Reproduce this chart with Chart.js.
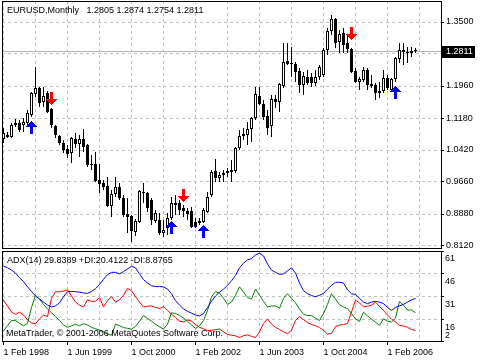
<!DOCTYPE html>
<html>
<head>
<meta charset="utf-8">
<script src="https://cdn.jsdelivr.net/npm/chart.js@4.4.1/dist/chart.umd.min.js"></script>
<style>
  html, body { margin: 0; padding: 0; background: #fff; }
  #wrap { position: relative; width: 480px; height: 360px; overflow: hidden; }
  canvas { position: absolute; left: 0; display: block; }
  #main { top: 0; }
  #adx { top: 250px; }
</style>
</head>
<body>
<div id="wrap">
  <canvas id="main" width="480" height="250"></canvas>
  <canvas id="adx" width="480" height="110"></canvas>
</div>
<script>
// monthly EURUSD bars, Feb 1998 .. Sep 2006
const opens = [1.0685, 1.0733, 1.0733, 1.1070, 1.1070, 1.1022, 1.1070, 1.1262, 1.1768, 1.1912,
  1.1575, 1.1792, 1.1407, 1.0997, 1.0757, 1.0588, 1.0444, 1.0348, 1.0685, 1.0564,
  1.0685, 1.0540, 1.0083, 1.0083, 0.9698, 0.9626, 0.9554, 0.9073, 0.9361, 0.9530,
  0.9265, 0.8880, 0.8832, 0.8447, 0.8688, 0.9409, 0.9385, 0.9217, 0.8712, 0.8736,
  0.8423, 0.8543, 0.8784, 0.9145, 0.9145, 0.9024, 0.8952, 0.8952, 0.8688, 0.8663,
  0.8688, 0.8928, 0.9337, 0.9915, 0.9746, 0.9818, 0.9867, 0.9891, 0.9915, 1.0468,
  1.0805, 1.0781, 1.0925, 1.1190, 1.1719, 1.1527, 1.1238, 1.0997, 1.1647, 1.1575,
  1.1960, 1.2562, 1.2513, 1.2489, 1.2321, 1.1984, 1.2177, 1.2177, 1.2032, 1.2177,
  1.2225, 1.2826, 1.3283, 1.3572, 1.3019, 1.3235, 1.2995, 1.2850, 1.2321, 1.2056,
  1.2104, 1.2345, 1.2008, 1.1984, 1.1792, 1.1840, 1.2153, 1.1864, 1.2128, 1.2610,
  1.2826, 1.2778, 1.2754, 1.2805];
const highs = [1.0949, 1.0853, 1.1070, 1.1166, 1.1142, 1.1190, 1.1383, 1.1816, 1.2417, 1.1936,
  1.1936, 1.1840, 1.1431, 1.1022, 1.0781, 1.0661, 1.0540, 1.0733, 1.0829, 1.0781,
  1.0925, 1.0564, 1.0300, 1.0372, 1.0083, 0.9698, 0.9770, 0.9458, 0.9770, 0.9626,
  0.9337, 0.9265, 0.8856, 0.8760, 0.9458, 0.9626, 0.9409, 0.9265, 0.8976, 0.8904,
  0.8736, 0.8904, 0.9289, 0.9337, 0.9217, 0.9097, 0.9024, 0.9048, 0.8784, 0.8784,
  0.9024, 0.9409, 0.9939, 1.0203, 0.9891, 0.9939, 0.9987, 1.0179, 1.0492, 1.0901,
  1.0949, 1.1094, 1.1214, 1.1936, 1.1936, 1.1623, 1.1383, 1.1743, 1.1743, 1.2032,
  1.2995, 1.2995, 1.2898, 1.2538, 1.2393, 1.2297, 1.2345, 1.2273, 1.2345, 1.2465,
  1.2874, 1.3355, 1.3668, 1.3596, 1.3307, 1.3355, 1.3187, 1.2874, 1.2393, 1.2177,
  1.2417, 1.2393, 1.2225, 1.2032, 1.2056, 1.2345, 1.2225, 1.2153, 1.2658, 1.2995,
  1.2995, 1.2898, 1.2898, 1.2874];
const lows = [1.0588, 1.0709, 1.0709, 1.0973, 1.0853, 1.0853, 1.1022, 1.1214, 1.1695, 1.1455,
  1.1455, 1.1310, 1.0949, 1.0709, 1.0540, 1.0348, 1.0228, 1.0107, 1.0468, 1.0252,
  1.0372, 1.0011, 0.9939, 0.9650, 0.9385, 0.9458, 0.9048, 0.8808, 0.9289, 0.9217,
  0.8808, 0.8423, 0.8206, 0.8351, 0.8663, 0.9145, 0.8928, 0.8615, 0.8663, 0.8375,
  0.8327, 0.8375, 0.8736, 0.8856, 0.8856, 0.8808, 0.8736, 0.8543, 0.8543, 0.8615,
  0.8663, 0.8904, 0.9289, 0.9650, 0.9650, 0.9650, 0.9770, 0.9650, 0.9867, 1.0420,
  1.0661, 1.0540, 1.0612, 1.1142, 1.1503, 1.1142, 1.0781, 1.0733, 1.1431, 1.1334,
  1.1912, 1.2465, 1.2177, 1.2056, 1.1792, 1.1743, 1.1984, 1.1936, 1.1960, 1.2104,
  1.2177, 1.2706, 1.3187, 1.2874, 1.2754, 1.2754, 1.2754, 1.2273, 1.2032, 1.1864,
  1.2056, 1.1864, 1.1912, 1.1623, 1.1671, 1.1792, 1.1864, 1.1816, 1.2056, 1.2513,
  1.2465, 1.2513, 1.2658, 1.2754];
const closes = [1.0829, 1.0781, 1.1022, 1.1022, 1.0901, 1.1094, 1.1310, 1.1792, 1.1912, 1.1551,
  1.1719, 1.1334, 1.1022, 1.0781, 1.0588, 1.0420, 1.0324, 1.0709, 1.0564, 1.0685,
  1.0492, 1.0059, 1.0059, 0.9674, 0.9602, 0.9530, 0.9073, 0.9361, 0.9530, 0.9265,
  0.8856, 0.8808, 0.8471, 0.8712, 0.9434, 0.9385, 0.9024, 0.8736, 0.8904, 0.8423,
  0.8495, 0.8784, 0.9145, 0.9097, 0.8976, 0.8952, 0.8880, 0.8567, 0.8567, 0.8712,
  0.8976, 0.9289, 0.9891, 0.9746, 0.9818, 0.9867, 0.9915, 0.9939, 1.0468, 1.0757,
  1.0757, 1.0925, 1.1190, 1.1768, 1.1527, 1.1214, 1.0949, 1.1647, 1.1575, 1.2008,
  1.2538, 1.2489, 1.2489, 1.2297, 1.1984, 1.2201, 1.2032, 1.2032, 1.2177, 1.2417,
  1.2826, 1.3283, 1.3572, 1.2995, 1.3211, 1.2947, 1.2850, 1.2297, 1.2056, 1.2128,
  1.2345, 1.1984, 1.1960, 1.1792, 1.1840, 1.2153, 1.1912, 1.2128, 1.2634, 1.2826,
  1.2778, 1.2754, 1.2802, 1.2811];

// fractal arrows: bar index and arrow tip price
const upFractalBars = [12, 45, 87];
const upFractalTips = [1.1503, 0.9193, 1.3067];
const downFractalBars = [7, 42, 50, 98];
const downFractalTips = [1.1118, 0.8688, 0.8615, 1.1960];

// ADX(14) window
const adx = [51, 50, 48.5, 46.5, 43.5, 41, 37.5, 34.5, 31.5, 29.5,
  27.6, 25.5, 24.3, 25, 27, 31, 34.3, 34.5, 34.3, 34,
  33.5, 33.2, 34.5, 36.3, 39, 42.5, 45.5, 47, 47, 46,
  47.5, 49.2, 51, 50, 46, 42.2, 40, 38.2, 37.7, 37.7,
  37.5, 36, 33, 28.5, 25.5, 23, 21.5, 20.3, 19, 18.4,
  20, 24, 28, 31.5, 34, 36, 38.5, 41.5, 45, 50,
  53, 55.2, 56, 58.5, 59.5, 57.8, 52.5, 48.5, 47, 45.7,
  46, 48, 50, 46.5, 40, 35, 33, 31.8, 31, 32,
  33.2, 36, 38.5, 40.5, 40.5, 40, 35.5, 33, 32.5, 30,
  27.5, 26.5, 27.5, 28, 27.5, 26.5, 24, 22, 24, 25,
  26, 27.5, 29, 29.8389];
const plusDI = [8.6, 12, 15.5, 15.5, 13.5, 12, 13.5, 24, 32, 29.5,
  26, 23, 20.5, 18, 15.5, 12.5, 11, 12, 13, 12,
  13.3, 12.5, 11, 10, 9, 8, 6.5, 5.8, 13, 12,
  10.8, 10.3, 9.8, 11.5, 15, 18.7, 16.8, 15, 13, 11.3,
  9.8, 13, 20.5, 20, 18.8, 17, 15, 12.5, 10.2, 12,
  15.3, 22, 31, 34.3, 33.5, 30, 26, 27.5, 32, 37.5,
  34, 30.5, 29.5, 36, 32, 28, 24.3, 25, 25, 23.5,
  30, 33, 30, 27, 23, 19.5, 18.7, 18.7, 17, 15.5,
  20, 26, 33, 29.5, 25.8, 24.3, 23.3, 20, 16.5, 14.8,
  20.9, 18.5, 16.3, 14.3, 12.3, 16.5, 15, 14.4, 17, 28,
  25.5, 22.3, 22.3, 20.4122];
const minusDI = [28.7, 25, 21, 19.5, 21, 19, 16, 13.8, 13.3, 16.5,
  19, 18, 30, 34.3, 34.3, 34.8, 35.5, 31.5, 27.5, 25.5,
  24.3, 29, 28, 28, 30.5, 24.3, 28.5, 31, 27.5, 29,
  32, 36.5, 35, 31, 27.5, 24.3, 24.8, 25, 24, 23.3,
  24.5, 22, 19.5, 17.5, 15, 14.5, 15.8, 15, 12.8, 11,
  10, 8.8, 9, 9.5, 9.8, 8, 6.3, 5.8, 5.4, 4.3,
  5.5, 6, 5, 4.3, 8, 13.5, 16.5, 13, 11, 9.5,
  8, 6.8, 9, 15.5, 18, 16, 14, 12.8, 12, 10.8,
  9, 6.5, 7, 11.5, 12.5, 12.8, 13.5, 21, 28.7, 27,
  24.3, 24.8, 25.4, 27.5, 24.5, 22, 19, 16.3, 14.5, 12.2,
  11.8, 11, 9.5, 8.8765];

const dateLabels = ['1 Feb 1998', '1 Jun 1999', '1 Oct 2000', '1 Feb 2002', '1 Jun 2003', '1 Oct 2004', '1 Feb 2006'];
const priceTicks = [1.35, 1.2735, 1.196, 1.118, 1.042, 0.966, 0.888, 0.812];
const adxTicks = [61, 46, 31, 16, 2];
const gridBars = [0, 8, 16, 24, 32, 40, 48, 56, 64, 72, 80, 88, 96, 104];

const FONT = "'Liberation Sans', Arial, sans-serif";
const last = closes.length - 1;
const xMin = -0.375, xMax = 109.375;
const priceMin = 0.80623, priceMax = 1.40053;

Chart.defaults.font.family = FONT;
Chart.defaults.font.size = 9;
Chart.defaults.color = '#000';

function arrowImage(color, pointsUp) {
  const c = document.createElement('canvas');
  c.width = 11; c.height = 27;
  const g = c.getContext('2d');
  g.fillStyle = color;
  for (let r = 0; r < 13; r++) {
    const w = r < 6 ? 2 * r + 1 : 3;
    const row = pointsUp ? 13 + r : 13 - r;
    g.fillRect((11 - w) / 2, row, w, 1);
  }
  return c;
}

// fixed axis boxes, no extra padding from edge labels
function fixBox(size, horizontal) {
  return s => {
    if (horizontal) s.height = size; else s.width = size;
    s.paddingTop = 0; s.paddingBottom = 0; s.paddingLeft = 0; s.paddingRight = 0;
  };
}

const xAxisBase = {
  type: 'linear', min: xMin, max: xMax, offset: false,
  afterBuildTicks: s => { s.ticks = gridBars.map(v => ({ value: v })); },
  border: { display: false, dash: [3, 3] }
};

const mainDecor = {
  id: 'mainDecor',
  beforeDraw(chart) { chart.ctx.imageSmoothingEnabled = false; },
  beforeDatasetsDraw(chart) {
    const { ctx, chartArea: a, scales } = chart;
    const py = Math.round(scales.y.getPixelForValue(closes[last])) + 0.5;
    ctx.save();
    ctx.strokeStyle = '#b4b4b4';
    ctx.lineWidth = 1;
    ctx.beginPath(); ctx.moveTo(a.left, py); ctx.lineTo(a.right, py); ctx.stroke();
    ctx.restore();
  },
  afterDraw(chart) {
    const { ctx, chartArea: a, scales } = chart;
    ctx.save();
    ctx.strokeStyle = '#000';
    ctx.lineWidth = 1;
    ctx.strokeRect(a.left + 0.5, a.top + 0.5, a.right - a.left, a.bottom - a.top);
    ctx.font = '9px ' + FONT;
    ctx.textBaseline = 'middle';
    ctx.fillStyle = '#000';
    const ohlc = [opens[last], highs[last], lows[last], closes[last]].map(v => v.toFixed(4)).join(' ');
    ctx.fillText('EURUSD,Monthly   ' + ohlc, 7, 11);
    const py = Math.round(scales.y.getPixelForValue(closes[last]));
    ctx.fillRect(a.right + 1, py - 5, 33, 12);
    ctx.fillStyle = '#fff';
    ctx.fillText(closes[last].toFixed(4), a.right + 5, py + 1);
    ctx.restore();
  }
};

new Chart(document.getElementById('main'), {
  type: 'bar',
  data: {
    datasets: [
      {
        data: highs.map((h, i) => ({ x: i, y: [lows[i], h] })),
        backgroundColor: '#000', barThickness: 1, grouped: false,
        minBarLength: 1, inflateAmount: 0, order: 3
      },
      {
        data: opens.map((o, i) => ({ x: i, y: [o, closes[i]] })),
        backgroundColor: opens.map((o, i) => closes[i] >= o ? '#fff' : '#000'),
        borderColor: '#000', borderWidth: 1, borderSkipped: false,
        barThickness: 3, grouped: false, minBarLength: 1, inflateAmount: 0, order: 2
      },
      {
        type: 'scatter',
        data: upFractalBars.map((b, k) => ({ x: b, y: upFractalTips[k] })),
        pointStyle: arrowImage('#ff0000', false), order: 1
      },
      {
        type: 'scatter',
        data: downFractalBars.map((b, k) => ({ x: b, y: downFractalTips[k] })),
        pointStyle: arrowImage('#0000ff', true), order: 1
      }
    ]
  },
  options: {
    responsive: false, animation: false, events: [],
    layout: { autoPadding: false, padding: { left: 2, top: 1, right: 0, bottom: 0 } },
    plugins: { legend: { display: false }, tooltip: { enabled: false } },
    scales: {
      x: Object.assign({}, xAxisBase, {
        afterFit: fixBox(2, true),
        ticks: { display: false },
        grid: { color: '#c0c0c0', drawTicks: false, offset: false }
      }),
      y: {
        position: 'right', min: priceMin, max: priceMax,
        afterBuildTicks: s => { s.ticks = priceTicks.map(v => ({ value: v })); },
        afterFit: fixBox(39, false),
        ticks: { padding: 2, autoSkip: false, callback: v => v.toFixed(4) },
        grid: { color: '#c0c0c0', tickColor: '#000', tickLength: 3, tickBorderDash: [] },
        border: { display: false, dash: [3, 3] }
      }
    }
  },
  plugins: [mainDecor]
});

const adxDecor = {
  id: 'adxDecor',
  afterDraw(chart) {
    const { ctx, chartArea: a } = chart;
    ctx.save();
    ctx.strokeStyle = '#000';
    ctx.lineWidth = 1;
    ctx.strokeRect(a.left + 0.5, a.top + 0.5, a.right - a.left, a.bottom - a.top);
    ctx.font = '9px ' + FONT;
    ctx.textBaseline = 'middle';
    ctx.fillStyle = '#000';
    ctx.fillText('ADX(14) ' + adx[last].toFixed(4) + ' +DI:' + plusDI[last].toFixed(4) +
      ' -DI:' + minusDI[last].toFixed(4), 7, 11);
    ctx.fillText('MetaTrader, \u00a9 2001-2006 MetaQuotes Software Corp.', 6, 84);
    ctx.restore();
  }
};

const lineSet = (values, color) => ({
  data: values.map((v, i) => ({ x: i, y: v })),
  borderColor: color, borderWidth: 1, pointRadius: 0, tension: 0, fill: false
});

new Chart(document.getElementById('adx'), {
  type: 'line',
  data: {
    datasets: [
      lineSet(adx, '#0000ff'),
      lineSet(plusDI, '#008000'),
      lineSet(minusDI, '#ff0000')
    ]
  },
  options: {
    responsive: false, animation: false, events: [],
    layout: { autoPadding: false, padding: { left: 2, top: 1, right: 0, bottom: 0 } },
    plugins: { legend: { display: false }, tooltip: { enabled: false } },
    scales: {
      x: Object.assign({}, xAxisBase, {
        afterFit: fixBox(19, true),
        ticks: {
          autoSkip: false, maxRotation: 0, minRotation: 0, align: 'start', padding: 2,
          callback: v => v % 16 === 0 ? dateLabels[v / 16] : ''
        },
        grid: {
          color: '#c0c0c0', tickLength: 4, tickBorderDash: [], offset: false,
          tickColor: c => (c.tick && c.tick.value % 16 === 0) ? '#000' : 'rgba(0,0,0,0)'
        }
      }),
      y: {
        position: 'right', min: 2, max: 61,
        afterBuildTicks: s => { s.ticks = adxTicks.map(v => ({ value: v })); },
        afterFit: fixBox(39, false),
        ticks: {
          padding: 1, autoSkip: false,
          callback: v => v === 2 ? ['2', ''] : ['', String(v)],
          font: c => ({ family: FONT, size: 9, lineHeight: (c.tick && c.tick.value === 2) ? '10px' : '16px' })
        },
        grid: { color: '#c0c0c0', tickColor: '#000', tickLength: 3, tickBorderDash: [] },
        border: { display: false, dash: [3, 3] }
      }
    }
  },
  plugins: [adxDecor]
});
</script>
</body>
</html>
